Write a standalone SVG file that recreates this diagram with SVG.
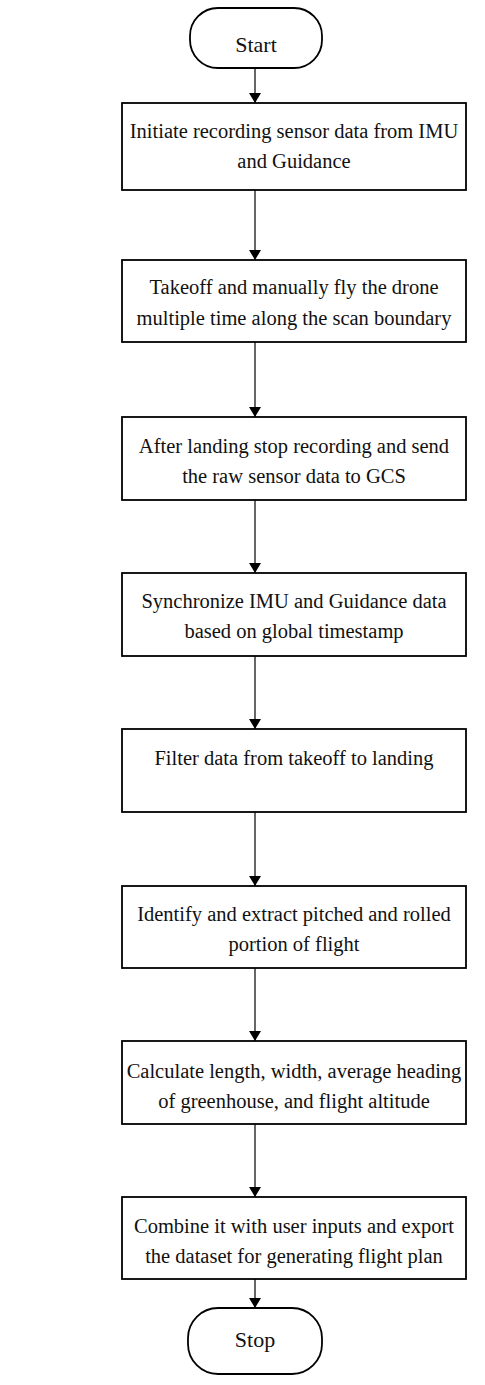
<svg xmlns="http://www.w3.org/2000/svg" width="485" height="1385" viewBox="0 0 485 1385">
  <style>
    .box { fill: #ffffff; stroke: #000000; stroke-width: 1.8; }
    .term { fill: #ffffff; stroke: #000000; stroke-width: 1.8; }
    .lbl { font-family: "Liberation Serif", "DejaVu Serif", "Times New Roman", serif; font-size: 20.5px; fill: #111111; text-anchor: middle; }
    .tl { font-size: 22px; }
    .edge { stroke: #000000; stroke-width: 1.2; fill: none; marker-end: url(#head); }
  </style>
  <defs>
    <marker id="head" viewBox="0 0 10 12" refX="10" refY="6" markerWidth="10" markerHeight="12" markerUnits="userSpaceOnUse" orient="auto">
      <path d="M0,0 L10,6 L0,12 Z" fill="#000000"/>
    </marker>
  </defs>
  <rect width="485" height="1385" fill="#ffffff"/>

  <g id="connectors">
    <line class="edge" x1="255" y1="68" x2="255" y2="103"/>
    <line class="edge" x1="255" y1="190" x2="255" y2="260"/>
    <line class="edge" x1="255" y1="342" x2="255" y2="417"/>
    <line class="edge" x1="255" y1="500" x2="255" y2="573"/>
    <line class="edge" x1="255" y1="656" x2="255" y2="729"/>
    <line class="edge" x1="255" y1="812" x2="255" y2="886"/>
    <line class="edge" x1="255" y1="968" x2="255" y2="1041"/>
    <line class="edge" x1="255" y1="1124" x2="255" y2="1197"/>
    <line class="edge" x1="255" y1="1279" x2="255" y2="1308"/>
  </g>

  <g id="start">
    <rect class="term" x="190" y="8" width="132" height="60" rx="28" ry="28"/>
    <text class="lbl tl" x="256" y="52">Start</text>
  </g>

  <g id="step1">
    <rect class="box" x="122" y="103" width="344" height="87"/>
    <text class="lbl" x="294" y="138">Initiate recording sensor data from IMU</text>
    <text class="lbl" x="294" y="168">and Guidance</text>
  </g>

  <g id="step2">
    <rect class="box" x="122" y="260" width="344" height="82"/>
    <text class="lbl" x="294" y="294">Takeoff and manually fly the drone</text>
    <text class="lbl" x="294" y="325">multiple time along the scan boundary</text>
  </g>

  <g id="step3">
    <rect class="box" x="122" y="417" width="344" height="83"/>
    <text class="lbl" x="294" y="453">After landing stop recording and send</text>
    <text class="lbl" x="294" y="483">the raw sensor data to GCS</text>
  </g>

  <g id="step4">
    <rect class="box" x="122" y="573" width="344" height="83"/>
    <text class="lbl" x="294" y="608">Synchronize IMU and Guidance data</text>
    <text class="lbl" x="294" y="638">based on global timestamp</text>
  </g>

  <g id="step5">
    <rect class="box" x="122" y="729" width="344" height="83"/>
    <text class="lbl" x="294" y="765">Filter data from takeoff to landing</text>
  </g>

  <g id="step6">
    <rect class="box" x="122" y="886" width="344" height="82"/>
    <text class="lbl" x="294" y="921">Identify and extract pitched and rolled</text>
    <text class="lbl" x="294" y="951">portion of flight</text>
  </g>

  <g id="step7">
    <rect class="box" x="122" y="1041" width="344" height="83"/>
    <text class="lbl" x="294" y="1078">Calculate length, width, average heading</text>
    <text class="lbl" x="294" y="1108">of greenhouse, and flight altitude</text>
  </g>

  <g id="step8">
    <rect class="box" x="122" y="1197" width="344" height="82"/>
    <text class="lbl" x="294" y="1233">Combine it with user inputs and export</text>
    <text class="lbl" x="294" y="1263">the dataset for generating flight plan</text>
  </g>

  <g id="stop">
    <rect class="term" x="188" y="1308" width="134" height="66" rx="30" ry="30"/>
    <text class="lbl tl" x="255" y="1347">Stop</text>
  </g>
</svg>
